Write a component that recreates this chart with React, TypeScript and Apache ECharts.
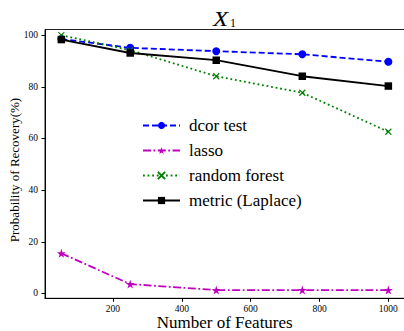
import React, { useEffect, useRef } from "react";
import * as echarts from "echarts";

const features = [50, 250, 500, 750, 1000];
const dcorTest = [98.5, 95.1, 93.8, 92.6, 89.7];
const lasso = [15.5, 3.6, 1.3, 1.3, 1.3];
const randomForest = [100, 94.2, 84.1, 77.7, 62.6];
const metricLaplace = [98.3, 93.1, 90.3, 84.1, 80.3];
const xTicks = [200, 400, 600, 800, 1000];
const yTicks = [0, 20, 40, 60, 80, 100];

const serif = "'Liberation Serif', 'Times New Roman', serif";
const STAR =
  "path://M50,0 L61.2,34.5 L97.6,34.5 L68.2,55.9 L79.4,90.5 L50,69.1 L20.6,90.5 L31.8,55.9 L2.4,34.5 L38.8,34.5 Z";
const CROSS = "path://M0,0 L10,10 M10,0 L0,10";

function pairs(ys: number[]) {
  return features.map((x, i) => [x, ys[i]]);
}

export default function App() {
  const ref = useRef<HTMLDivElement>(null);
  useEffect(() => {
    if (!ref.current) return;
    const chart = echarts.init(ref.current, undefined, { renderer: "svg" });
    chart.setOption({
      animation: false,
      backgroundColor: "#ffffff",
      grid: {
        left: 45,
        top: 29.5,
        right: -0.7,
        bottom: 32.7,
        containLabel: false,
        outerBoundsMode: "none",
        show: true,
        borderColor: "#222",
        borderWidth: 1,
      },
      graphic: [
        {
          type: "text",
          x: 213,
          y: 19.2,
          scaleX: 1.25,
          style: {
            text: "X",
            font: `italic 20px ${serif}`,
            fill: "#000",
            textAlign: "left",
            textVerticalAlign: "middle",
          },
        },
        {
          type: "text",
          x: 230,
          y: 22.6,
          style: {
            text: "1",
            font: `12px ${serif}`,
            fill: "#000",
            textAlign: "left",
            textVerticalAlign: "middle",
          },
        },
        {
          type: "text",
          x: 224.7,
          y: 322.3,
          style: {
            text: "Number of Features",
            font: `17px ${serif}`,
            fill: "#000",
            textAlign: "center",
            textVerticalAlign: "middle",
          },
        },
        {
          type: "text",
          x: 14.5,
          y: 170,
          rotation: Math.PI / 2,
          style: {
            text: "Probability of Recovery(%)",
            font: `13px ${serif}`,
            fill: "#000",
            textAlign: "center",
            textVerticalAlign: "middle",
          },
        },
      ],
      legend: {
        orient: "vertical",
        left: 137,
        top: 112,
        itemWidth: 37,
        itemHeight: 9,
        itemGap: 8,
        textStyle: {
          fontFamily: serif,
          fontSize: 17,
          color: "#000",
          lineHeight: 17,
          padding: [0, 0, 0, 4],
        },
        data: ["dcor test", "lasso", "random forest", "metric (Laplace)"],
      },
      xAxis: {
        type: "value",
        min: 2.5,
        max: 1047.5,
        splitLine: { show: false },
        axisLine: { show: true, onZero: false, lineStyle: { color: "#000", width: 1 } },
        axisTick: { show: true, customValues: xTicks, length: 3.5, lineStyle: { color: "#000" } },
        axisLabel: {
          customValues: xTicks,
          formatter: (v: number) => String(v),
          fontFamily: serif,
          fontSize: 9.5,
          color: "#000",
          margin: 6,
        },
      },
      yAxis: {
        type: "value",
        min: -1.9,
        max: 102.2,
        splitLine: { show: false },
        axisLine: { show: true, onZero: false, lineStyle: { color: "#000", width: 1 } },
        axisTick: { show: true, customValues: yTicks, length: 3.5, lineStyle: { color: "#000" } },
        axisLabel: {
          customValues: yTicks,
          formatter: (v: number) => String(v),
          fontFamily: serif,
          fontSize: 9.5,
          color: "#000",
          margin: 7,
        },
      },
      series: [
        {
          name: "dcor test",
          type: "line",
          data: pairs(dcorTest),
          symbol: "circle",
          symbolSize: 8,
          showAllSymbol: true,
          lineStyle: { color: "#0000ff", width: 1.8, type: [6, 3] },
          itemStyle: { color: "#0000ff" },
        },
        {
          name: "lasso",
          type: "line",
          data: pairs(lasso),
          symbol: STAR,
          symbolSize: 9,
          lineStyle: { color: "#bf00bf", width: 1.8, type: [8, 2.5, 1.8, 2.5] },
          itemStyle: { color: "#bf00bf" },
        },
        {
          name: "random forest",
          type: "line",
          data: pairs(randomForest),
          symbol: CROSS,
          symbolSize: 6,
          lineStyle: { color: "#008000", width: 1.8, type: [1.8, 2.8] },
          itemStyle: { color: "#008000", borderColor: "#008000", borderWidth: 1.1 },
        },
        {
          name: "metric (Laplace)",
          type: "line",
          data: pairs(metricLaplace),
          symbol: "rect",
          symbolSize: 7.5,
          lineStyle: { color: "#000000", width: 1.8, type: "solid" },
          itemStyle: { color: "#000000" },
        },
      ],
    });
    return () => chart.dispose();
  }, []);
  return (
    <div
      ref={ref}
      style={{ position: "absolute", left: 0, top: 0, width: 404, height: 331, overflow: "hidden" }}
    />
  );
}
